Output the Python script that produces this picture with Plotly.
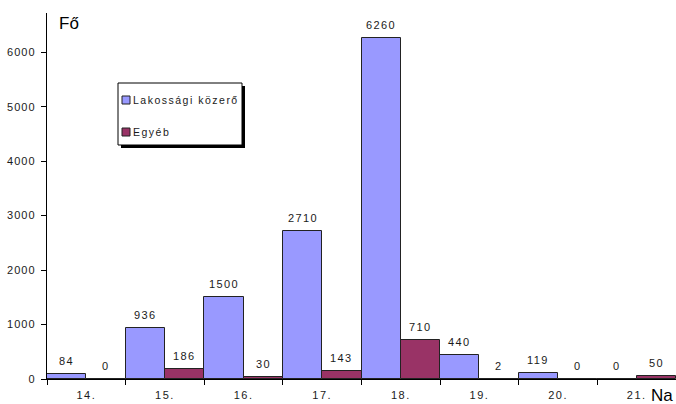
import plotly.graph_objects as go

# Napok (x kategóriák) és a két sorozat értékei
napok = ["14.", "15.", "16.", "17.", "18.", "19.", "20.", "21."]
lakossagi = [84, 936, 1500, 2710, 6260, 440, 119, 0]
egyeb = [0, 186, 30, 143, 710, 2, 0, 50]
y_ticks = [0, 1000, 2000, 3000, 4000, 5000, 6000]
sorozat_nevek = ["Lakossági közerő", "Egyéb"]
szinek = ["#9999FF", "#993366"]

W, H = 676, 404
ML, MR, MT, MB = 47, 0, 13, 25
PW, PH = W - ML - MR, H - MT - MB

FONT = "Liberation Sans, Arial, sans-serif"
TXT = "#1a1a1a"


def spaced(s, ls=1.3):
    return f'<span style="letter-spacing:{ls}px">{s}</span>'


def px(x):
    return (x - ML) / PW


def py(y):
    return (H - MB - y) / PH


fig = go.Figure()
for nev, ertekek, szin in zip(sorozat_nevek, [lakossagi, egyeb], szinek):
    fig.add_trace(go.Bar(
        x=napok, y=ertekek, name=nev,
        marker=dict(color=szin, line=dict(color="#222222", width=1)),
        showlegend=False,
    ))

fig.update_layout(
    width=W, height=H,
    margin=dict(l=ML, r=MR, t=MT, b=MB),
    paper_bgcolor="white", plot_bgcolor="white",
    barmode="group", bargap=0, bargroupgap=0,
    font=dict(family=FONT, size=11, color=TXT),
    xaxis=dict(
        type="category", range=[-0.5, 7.5],
        tickvals=napok, ticktext=[spaced(n, 1.5) for n in napok],
        showline=True, linecolor="black", linewidth=1,
        ticks="outside", tickson="boundaries", ticklen=5, tickcolor="black",
        ticklabelstandoff=6,
        showgrid=False, zeroline=False,
    ),
    yaxis=dict(
        range=[0, 6720], tickvals=y_ticks,
        ticktext=[spaced(str(v), 1.1) for v in y_ticks],
        showline=True, linecolor="black", linewidth=1,
        ticks="outside", ticklen=5, tickcolor="black",
        ticklabelstandoff=3,
        showgrid=False, zeroline=False,
    ),
)

# Értékcímkék az oszlopok fölött; x a kategória sorszáma,
# a csoporton belüli eltolás negyed kategóriaszélesség
group_w = PW / len(napok)
for k, ertekek in enumerate([lakossagi, egyeb]):
    shift = (-0.25 if k == 0 else 0.25) * group_w
    for idx, v in enumerate(ertekek):
        fig.add_annotation(x=idx, y=v, xref="x", yref="y", text=spaced(str(v), 1.4),
                           showarrow=False, yanchor="bottom", xanchor="center",
                           xshift=shift, yshift=5,
                           font=dict(family=FONT, size=11, color=TXT))

# Jelmagyarázat árnyékkal
lx0, lx1, ly0, ly1 = 118, 242, 83, 145
fig.add_shape(type="rect", xref="paper", yref="paper",
              x0=px(lx0 + 3), x1=px(lx1 + 3), y0=py(ly1 + 3), y1=py(ly0 + 3),
              fillcolor="black", line=dict(width=0))
fig.add_shape(type="rect", xref="paper", yref="paper",
              x0=px(lx0), x1=px(lx1), y0=py(ly1), y1=py(ly0),
              fillcolor="white", line=dict(color="black", width=1))
for i, (nev, szin) in enumerate(zip(sorozat_nevek, szinek)):
    cy = 100 + 32 * i
    fig.add_shape(type="rect", xref="paper", yref="paper",
                  x0=px(122), x1=px(130), y0=py(cy + 4), y1=py(cy - 4),
                  fillcolor=szin, line=dict(color="#222222", width=1))
    fig.add_annotation(text=spaced(nev, 1.5), xref="paper", yref="paper",
                       x=px(131), y=py(cy), xanchor="left", yanchor="middle",
                       showarrow=False, font=dict(family=FONT, size=10.5, color=TXT))

# Tengelyfeliratok
fig.add_annotation(text="Fő", xref="paper", yref="paper", x=px(57), y=py(12),
                   xanchor="left", yanchor="top", showarrow=False,
                   font=dict(family="Liberation Sans Narrow, Liberation Sans, Arial", size=17, color="black"))
fig.add_annotation(text="Na", xref="paper", yref="paper", x=px(675), y=py(395),
                   xanchor="right", yanchor="middle", showarrow=False,
                   font=dict(family="Liberation Sans Narrow, Liberation Sans, Arial", size=17, color="black"))

fig.write_html("out.html")
